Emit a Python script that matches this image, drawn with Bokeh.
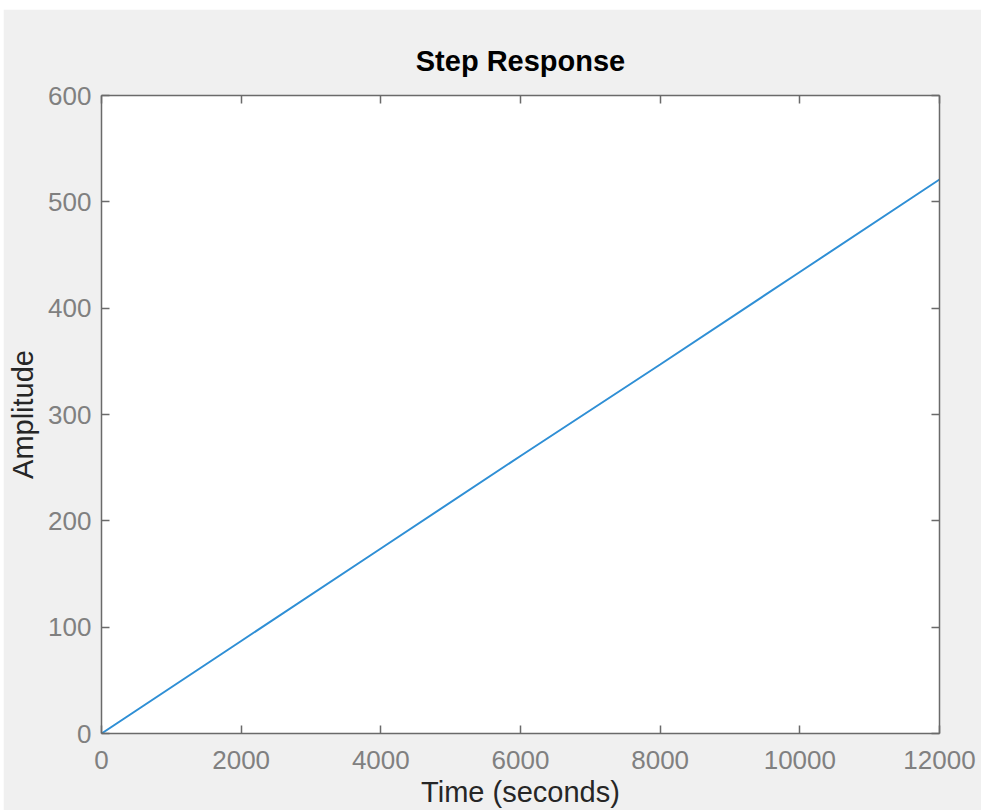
from bokeh.plotting import figure
from bokeh.models import LinearAxis, FixedTicker, Range1d, Spacer, CustomLabelingPolicy
from bokeh.layouts import row, column
from bokeh.embed import file_html
from bokeh.resources import INLINE

# Data
time_s = [0, 2000, 4000, 6000, 8000, 10000, 12000]
amplitude = [0, 87, 174, 261, 347, 434, 521]
x_ticks = [0, 2000, 4000, 6000, 8000, 10000, 12000]
y_ticks = [0, 100, 200, 300, 400, 500, 600]

FONT = "Liberation Sans"
AX_COL = "#6a6a6a"
BG = "#f0f0f0"

p = figure(width=978, height=801, output_backend="svg", toolbar_location=None,
           x_range=Range1d(0, 12000), y_range=Range1d(0, 600),
           x_axis_type=None, y_axis_type=None,
           min_border_left=98, min_border_right=42, min_border_top=86, min_border_bottom=76,
           border_fill_color=BG, background_fill_color="white", outline_line_color=None)

p.title.text = "Step Response"
p.title.align = "center"
p.title.text_font = FONT
p.title.text_font_size = "29px"
p.title.text_font_style = "bold"
p.title.text_color = "#000000"
p.title.standoff = 15

hide_labels = CustomLabelingPolicy(code="""
for (const i of Array.from(indices)) { indices.unset(i) }
return indices
""")

def style(ax, labels=True):
    ax.axis_line_color = AX_COL
    ax.axis_line_width = 1.5
    ax.major_tick_line_color = AX_COL
    ax.major_tick_line_width = 1.5
    ax.major_tick_in = 8
    ax.major_tick_out = 0
    ax.minor_tick_line_color = None
    ax.major_label_text_font = FONT
    ax.major_label_text_color = "#808080"
    ax.axis_label_text_font = FONT
    ax.axis_label_text_font_style = "normal"
    ax.axis_label_text_color = "#262626"
    if labels:
        ax.major_label_text_font_size = "26px"
        ax.axis_label_text_font_size = "29px"
    else:
        ax.major_label_policy = hide_labels
        ax.major_label_standoff = 0

xb = LinearAxis(ticker=FixedTicker(ticks=x_ticks), axis_label="Time (seconds)")
style(xb)
xb.major_label_standoff = 17
xb.axis_label_standoff = 4
yl = LinearAxis(ticker=FixedTicker(ticks=y_ticks), axis_label="Amplitude")
style(yl)
yl.major_label_standoff = 10
yl.axis_label_standoff = 6
xt = LinearAxis(ticker=FixedTicker(ticks=x_ticks))
style(xt, labels=False)
yr = LinearAxis(ticker=FixedTicker(ticks=y_ticks))
style(yr, labels=False)

p.add_layout(xb, "below")
p.add_layout(yl, "left")
p.add_layout(xt, "above")
p.add_layout(yr, "right")

p.grid.visible = False
p.line(time_s, amplitude, line_color="#2f8fd5", line_width=2)

layout = row(Spacer(width=3, height=801), column(Spacer(width=978, height=9), p))

open("out.html", "w").write(file_html(layout, INLINE))
